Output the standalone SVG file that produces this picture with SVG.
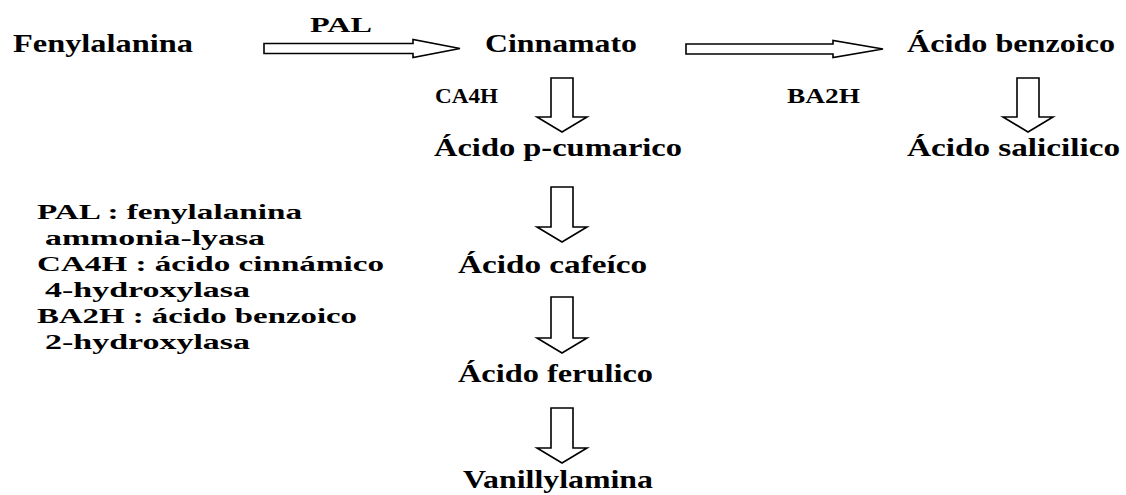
<svg xmlns="http://www.w3.org/2000/svg" width="1126" height="495" viewBox="0 0 1126 495">
<style>
.t{font-family:"Liberation Serif","Times New Roman",serif;font-weight:bold;fill:#000;font-size:25px}
.e{font-family:"Liberation Serif","Times New Roman",serif;font-weight:bold;fill:#000;font-size:20px}
.l{font-family:"Liberation Serif","Times New Roman",serif;font-weight:bold;fill:#000;font-size:22px}
.ar{fill:#fff;stroke:#000;stroke-width:1.6;stroke-linejoin:miter}
</style>
<rect width="1126" height="495" fill="#fff"/>
<g id="connectors">
<polygon class="ar" points="264,43.5 413,43.5 413,39.5 460,48.5 413,57.5 413,53.5 264,53.5"/>
<polygon class="ar" points="686,44 833,44 833,40.5 883,49 833,57.5 833,54 686,54"/>
<polygon class="ar" points="551,78 573,78 573,117 587,117 562,132 537,117 551,117"/>
<polygon class="ar" points="1017,78 1039,78 1039,117 1053,117 1028,132 1003,117 1017,117"/>
<polygon class="ar" points="551,187 573,187 573,227 587,227 562,242 537,227 551,227"/>
<polygon class="ar" points="551,297 573,297 573,338 587,338 562,353 537,338 551,338"/>
<polygon class="ar" points="551,408 573,408 573,448 587,448 562,463 537,448 551,448"/>
</g>
<g id="n-fenylalanina"><text class="t" x="13" y="52" textLength="180" lengthAdjust="spacingAndGlyphs">Fenylalanina</text></g>
<g id="n-cinnamato"><text class="t" x="485" y="52" textLength="152" lengthAdjust="spacingAndGlyphs">Cinnamato</text></g>
<g id="n-benzoico"><text class="t" x="907" y="52" textLength="208" lengthAdjust="spacingAndGlyphs">Ácido benzoico</text></g>
<g id="n-cumarico"><text class="t" x="434" y="156" textLength="248" lengthAdjust="spacingAndGlyphs">Ácido p-cumarico</text></g>
<g id="n-salicilico"><text class="t" x="907" y="156" textLength="213" lengthAdjust="spacingAndGlyphs">Ácido salicilico</text></g>
<g id="n-cafeico"><text class="t" x="458" y="273" textLength="189" lengthAdjust="spacingAndGlyphs">Ácido cafeíco</text></g>
<g id="n-ferulico"><text class="t" x="458" y="382" textLength="195" lengthAdjust="spacingAndGlyphs">Ácido ferulico</text></g>
<g id="n-vanillylamina"><text class="t" x="463" y="488" textLength="190" lengthAdjust="spacingAndGlyphs">Vanillylamina</text></g>
<g id="labels">
<text class="e" x="310" y="32" textLength="62" lengthAdjust="spacingAndGlyphs">PAL</text>
<text class="e" x="435" y="103" textLength="63" lengthAdjust="spacingAndGlyphs">CA4H</text>
<text class="e" x="787" y="103" textLength="73" lengthAdjust="spacingAndGlyphs">BA2H</text>
</g>
<g id="legend">
<text class="l" x="37" y="219" textLength="265" lengthAdjust="spacingAndGlyphs">PAL : fenylalanina</text>
<text class="l" x="45" y="245" textLength="220" lengthAdjust="spacingAndGlyphs">ammonia-lyasa</text>
<text class="l" x="37" y="271" textLength="347" lengthAdjust="spacingAndGlyphs">CA4H : ácido cinnámico</text>
<text class="l" x="45" y="297" textLength="205" lengthAdjust="spacingAndGlyphs">4-hydroxylasa</text>
<text class="l" x="37" y="323" textLength="320" lengthAdjust="spacingAndGlyphs">BA2H : ácido benzoico</text>
<text class="l" x="45" y="349" textLength="205" lengthAdjust="spacingAndGlyphs">2-hydroxylasa</text>
</g>
</svg>
